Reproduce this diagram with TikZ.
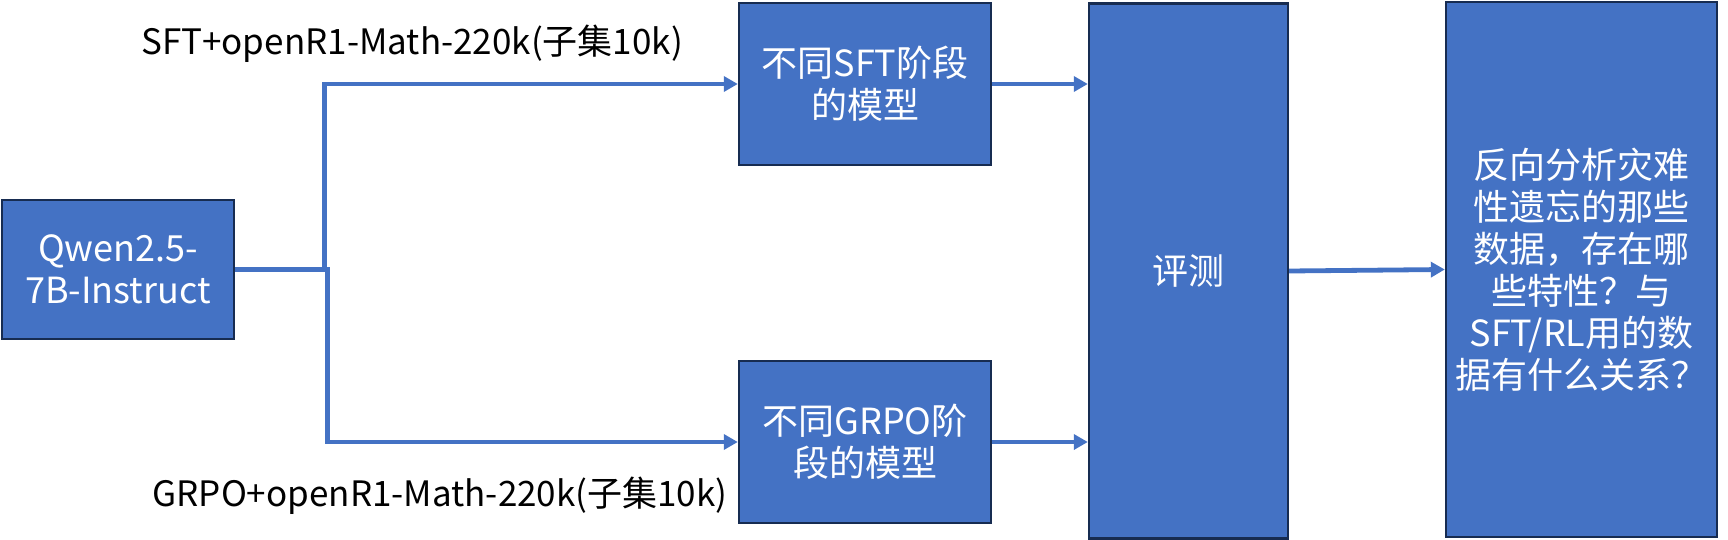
\documentclass[tikz,border=0pt]{standalone}
\usepackage{fontspec}
\setmainfont{Noto Sans CJK SC}
\usetikzlibrary{arrows.meta}

\definecolor{boxblau}{HTML}{4472C4}
\definecolor{boxrand}{HTML}{172C51}

\begin{document}
\begin{tikzpicture}[x=0.5pt,y=-0.5pt,
		kasten/.style={draw=boxrand,line width=1.2pt,fill=boxblau,text=white,align=center,inner sep=2pt,
			font=\fontsize{18pt}{21pt}\selectfont},
		pfeil/.style={-{Triangle[length=7pt,width=7.5pt]},line width=2.4pt,draw=boxblau},
		beschr/.style={font=\fontsize{17.5pt}{21pt}\selectfont,inner sep=0pt}]
		% Rahmen
		\useasboundingbox (0,0) rectangle (1728,540);
		
		% Kaesten
		\node[kasten,minimum width=116pt,minimum height=69.5pt] (qwen) at (118,269.5) {Qwen2.5-\\7B-Instruct};
		\node[kasten,minimum width=126pt,minimum height=81pt] (sft) at (865,84) {不同SFT阶段\\的模型};
		\node[kasten,minimum width=126pt,minimum height=81pt] (grpo) at (865,442) {不同GRPO阶\\段的模型};
		\node[kasten,minimum width=99.5pt,minimum height=267.5pt] (eval) at (1188.5,271) {评测};
		\node[kasten,minimum width=135.5pt,minimum height=267.5pt] (ana) at (1581.5,269.5)
			{反向分析灾难\\性遗忘的那些\\数据，存在哪\\些特性？与\\SFT/RL用的数\\据有什么关系？};
		
		% Beschriftungen
		\node[beschr] (sftlbl) at (412,44) {SFT+openR1-Math-220k(子集10k)};
		\node[beschr] (grpolbl) at (440,496) {GRPO+openR1-Math-220k(子集10k)};
		
		% Verzweigung
		\draw[pfeil] (qwen.east) -- ++(89,0) |- (sft.west);
		\draw[pfeil] (qwen.east) -- ++(92,0) |- (grpo.west);
		
		% Zum Evaluieren und weiter
		\draw[pfeil] (sft.east) -- (sft.east -| eval.west);
		\draw[pfeil] (grpo.east) -- (grpo.east -| eval.west);
		\draw[pfeil] (eval.east) -- (ana.west);
	\end{tikzpicture}
\end{document}
